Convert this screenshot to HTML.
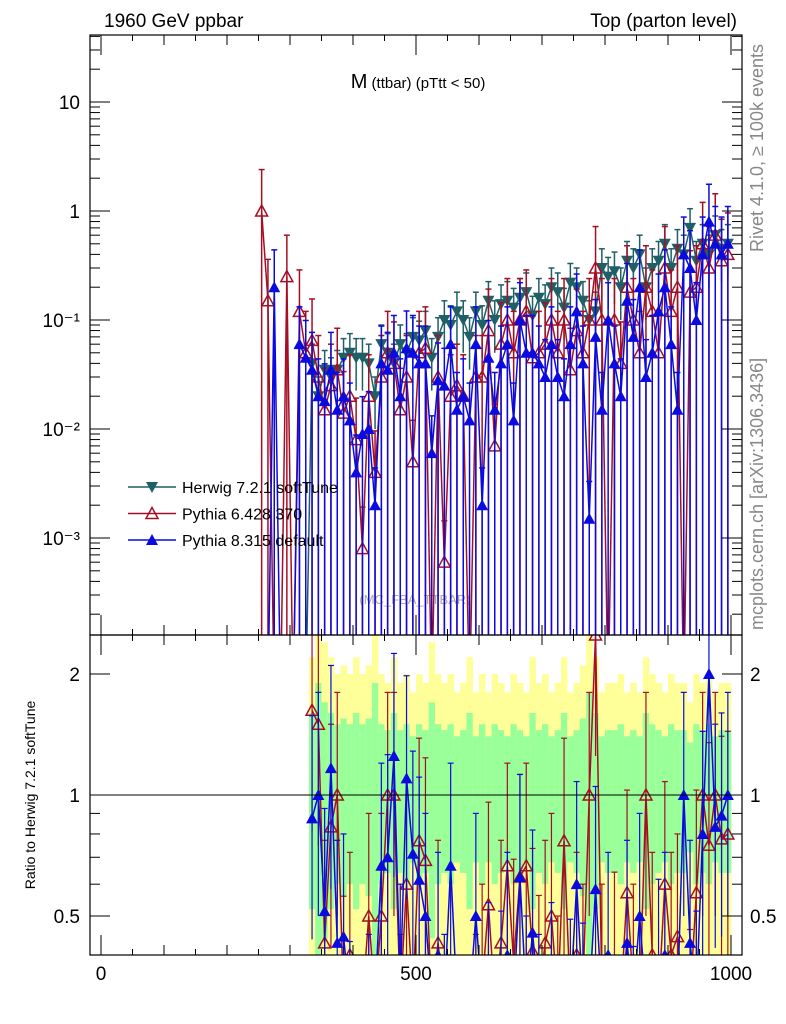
<!DOCTYPE html>
<html><head><meta charset="utf-8"><style>
html,body{margin:0;padding:0;background:#fff;overflow:hidden;width:786px;height:1024px;font-family:"Liberation Sans",sans-serif}
svg{display:block}
svg text{font-family:"Liberation Sans",sans-serif}
</style></head><body>
<svg id="c" width="786" height="1024" xmlns="http://www.w3.org/2000/svg">
<text x="104" y="27" font-size="19">1960 GeV ppbar</text>
<text x="737" y="27" font-size="19" text-anchor="end">Top (parton level)</text>
<text x="418" y="88" font-size="20" text-anchor="middle">M<tspan font-size="15"> (ttbar) (pTtt &lt; 50)</tspan></text>
<text x="415" y="604" font-size="13" fill="#aaa" text-anchor="middle">(MC_FBA_TTBAR)</text>
<text transform="translate(763,252) rotate(-90)" font-size="18" fill="#888">Rivet 4.1.0, ≥ 100k events</text>
<text transform="translate(763,630) rotate(-90)" font-size="18" fill="#888">mcplots.cern.ch [arXiv:1306.3436]</text>
<text transform="translate(35,795) rotate(-90)" font-size="14" text-anchor="middle">Ratio to Herwig 7.2.1 softTune</text>
<g id="bands"></g><g id="marks"></g><g id="axes"></g><g id="legend"></g>
</svg>
<script>
const centers=[];for(let i=0;i<75;i++)centers.push(255+10*i);
const herwig=[0,0,0,0,0,0,0,0,0.04,0.02,0.035,0.03,0.035,0.045,0.05,0.045,0.045,0.04,0.02,0.06,0.05,0.04,0.06,0.05,0.07,0.065,0.08,0.045,0.07,0.1,0.09,0.12,0.1,0.07,0.12,0.09,0.15,0.1,0.14,0.15,0.13,0.16,0.18,0.11,0.16,0.14,0.2,0.18,0.13,0.22,0.2,0.15,0.1,0.12,0.3,0.25,0.28,0.2,0.35,0.3,0.4,0.2,0.3,0.35,0.5,0.3,0.45,0.4,0.7,0.35,0.5,0.4,0.6,0.45,0.5];
const pythia6=[1.0,0.15,0,0,0.25,0,0.12,0.05,0.065,0.03,0.015,0.025,0.035,0.014,0.02,0.008,0.0008,0.02,0.004,0.03,0.05,0.04,0.015,0.03,0.005,0.05,0.055,0,0.03,0.0006,0.02,0.025,0.02,0,0.03,0.03,0.08,0.007,0.06,0.1,0.05,0.1,0.12,0.045,0.05,0.06,0.1,0.05,0.1,0.035,0.08,0.05,0.1,0.3,0.1,0,0.1,0.04,0.2,0.1,0.05,0.2,0.12,0.05,0.3,0.12,0.2,0,0.18,0.2,0.5,0.3,0.6,0.35,0.4];
const pythia8=[0,0,0.2,0,0,0,0.06,0.045,0.035,0.02,0.018,0.035,0.015,0.02,0.012,0.004,0.009,0.01,0.002,0.04,0.035,0.05,0.02,0.055,0.05,0.04,0.04,0.006,0.028,0.025,0.06,0.015,0.02,0.012,0.06,0.002,0.045,0.015,0.04,0.06,0.012,0.1,0.05,0.05,0.04,0.03,0.06,0.03,0.02,0.06,0.12,0.04,0.0015,0.07,0.015,0.1,0.04,0.02,0.15,0.07,0.2,0.03,0.05,0.12,0.2,0.06,0.015,0.4,0.3,0.1,0.4,0.8,0.5,0.4,0.5];
const relErr=[0,0,0,0,0,0,0,0,0.6,0.9,0.7,0.6,0.5,0.55,0.5,0.6,0.5,0.55,0.9,0.5,0.45,0.6,0.45,0.5,0.4,0.5,0.45,0.7,0.5,0.45,0.5,0.4,0.45,0.6,0.4,0.5,0.4,0.5,0.45,0.4,0.5,0.45,0.4,0.6,0.45,0.5,0.4,0.45,0.6,0.4,0.45,0.55,0.8,0.6,0.4,0.45,0.45,0.5,0.4,0.45,0.4,0.6,0.5,0.45,0.4,0.5,0.45,0.45,0.35,0.5,0.45,0.5,0.4,0.45,0.45];
const yTicks=["10","1","10⁻¹","10⁻²","10⁻³"];
const rTicks=[2,1,0.5];const xTicks=[0,500,1000];
const NS="http://www.w3.org/2000/svg";
const X0=90,X1=742,Y0=35,Y1=635,R1=955;
const xs=v=>101+0.63*v;
const ys=v=>v<=0?700:211-109*Math.log10(v);
const yr=v=>v<=0?1000:Math.min(1000,795-402*Math.log10(v));
function el(t,a,p){const e=document.createElementNS(NS,t);for(const k in a)e.setAttribute(k,a[k]);(p||document.getElementById('marks')).appendChild(e);return e;}
const svg=document.getElementById('c');
const defs=el('defs',{},svg);
const cm=el('clipPath',{id:'cm'},defs);el('rect',{x:X0,y:Y0,width:X1-X0,height:Y1-Y0},cm);
const cr=el('clipPath',{id:'cr'},defs);el('rect',{x:X0,y:Y1,width:X1-X0,height:R1-Y1},cr);
const bands=document.getElementById('bands');bands.setAttribute('clip-path','url(#cr)');
centers.forEach((c,i)=>{if(!relErr[i])return;const x=xs(c-5),w=0.63*10+0.3,e=relErr[i];
 const yt=yr(1+2*e),yb=yr(Math.max(1-2*e,0.01));
 const y=el('rect',{x:x,y:yt,width:w,height:yb-yt,fill:'#ffff99'},bands);
 
 
 const gt=yr(1+e),gb=yr(1-e*0.8);
 const g=el('rect',{x:x,y:gt,width:w,height:gb-gt,fill:'#99ff99'},bands);
 
 });
const marks=document.getElementById('marks');
const gm=el('g',{'clip-path':'url(#cm)'},marks);const gr=el('g',{'clip-path':'url(#cr)'},marks);
function marker(g,type,x,y,col){
 if(type==='down')return el('path',{d:`M${x-6},${y-5}L${x+6},${y-5}L${x},${y+6}Z`,fill:col},g);
 if(type==='up')return el('path',{d:`M${x-6},${y+5}L${x+6},${y+5}L${x},${y-6}Z`,fill:col},g);
 return el('path',{d:`M${x-6},${y+5}L${x+6},${y+5}L${x},${y-6}Z`,fill:'none',stroke:col,'stroke-width':1.5},g);}
function series(vals,col,type,up,lo,name){
 let d='';vals.forEach((v,i)=>{if(v===0&&(i===0||vals[i-1]===0)&&(i===vals.length-1||vals[i+1]===0))return;d+=(d?'L':'M')+xs(centers[i])+','+ys(v);});
 const p=el('path',{d:d,fill:'none',stroke:col,'stroke-width':1.5},gm);
 
 
 vals.forEach((v,i)=>{if(!v)return;const x=xs(centers[i]);
  el('line',{x1:x,x2:x,y1:ys(v*up),y2:ys(v*lo),stroke:col,'stroke-width':1.5},gm);
  el('line',{x1:x-3,x2:x+3,y1:ys(v*up),y2:ys(v*up),stroke:col,'stroke-width':1.5},gm);
  const m=marker(gm,type,x,ys(v),col);
  
  });
 if(name==='herwig')return;
 let rd='';vals.forEach((v,i)=>{if(!herwig[i])return;const r=v/herwig[i];rd+=(rd?'L':'M')+xs(centers[i])+','+yr(r);});
 const rp=el('path',{d:rd,fill:'none',stroke:col,'stroke-width':1.5},gr);
 
 
 vals.forEach((v,i)=>{if(!herwig[i]||!v)return;const r=v/herwig[i],x=xs(centers[i]);
  el('line',{x1:x,x2:x,y1:yr(r*1.8),y2:yr(r*0.5),stroke:col,'stroke-width':1.2},gr);
  el('line',{x1:x-3,x2:x+3,y1:yr(r*1.8),y2:yr(r*1.8),stroke:col,'stroke-width':1.2},gr);
  const m=marker(gr,type,x,yr(r),col);
  
  });}
series(herwig,'#1f5f66','down',1.5,0.5,'herwig');
series(pythia6,'#a50f25','open',2.4,0,'pythia6');
series(pythia8,'#0b0be0','up',2.2,0,'pythia8');
el('line',{x1:X0,x2:X1,y1:yr(1),y2:yr(1),stroke:'#000','stroke-width':1},gr);
const ax=document.getElementById('axes');
el('rect',{x:X0,y:Y0,width:X1-X0,height:Y1-Y0,fill:'none',stroke:'#000','stroke-width':1.2},ax);
el('rect',{x:X0,y:Y1,width:X1-X0,height:R1-Y1,fill:'none',stroke:'#000','stroke-width':1.2},ax);
for(let e=-4;e<=1;e++)for(let k=1;k<10;k++){const y=ys(k*Math.pow(10,e));if(y<Y0||y>Y1)continue;const L=k===1?20:10;
 el('line',{x1:X0,x2:X0+L,y1:y,y2:y,stroke:'#000'},ax);el('line',{x1:X1,x2:X1-L,y1:y,y2:y,stroke:'#000'},ax);}
yTicks.forEach((t,i)=>{const y=ys(Math.pow(10,1-i));const tx=el('text',{x:80,y:y+7,'font-size':19,'text-anchor':'end'},ax);tx.textContent=t;
 
 });
[0.4,0.5,0.6,0.7,0.8,0.9,1,2].forEach(v=>{const y=yr(v);const maj=v===0.5||v===1||v===2;const L=maj?20:10;
 el('line',{x1:X0,x2:X0+L,y1:y,y2:y,stroke:'#000'},ax);el('line',{x1:X1,x2:X1-L,y1:y,y2:y,stroke:'#000'},ax);});
rTicks.forEach(v=>{const y=yr(v)+7;[[80,'end'],[750,'start']].forEach(([x,a])=>{const tx=el('text',{x:x,y:y,'font-size':19,'text-anchor':a},ax);tx.textContent=String(v);
 
 });});
for(let v=0;v<=1000;v+=50){const x=xs(v);const L=v%500===0?20:(v%100===0?10:6);
 [[Y0,1],[Y1,-1],[Y1,1],[R1,-1]].forEach(([y,s])=>el('line',{x1:x,x2:x,y1:y,y2:y+s*L,stroke:'#000'},ax));}
xTicks.forEach(v=>{const tx=el('text',{x:xs(v),y:980,'font-size':19,'text-anchor':'middle'},ax);tx.textContent=String(v);
 
 });
const lg=document.getElementById('legend');
[['Herwig 7.2.1 softTune','#1f5f66','down'],['Pythia 6.428 370','#a50f25','open'],['Pythia 8.315 default','#0b0be0','up']].forEach((e,i)=>{const y=487+i*26.5;
 const g=el('g',{},lg);
 el('line',{x1:128,x2:176,y1:y,y2:y,stroke:e[1],'stroke-width':1.5},g);marker(g,e[2],152,y,e[1]);
 const t=el('text',{x:182,y:y+6,'font-size':16},g);t.textContent=e[0];});
</script>
</body></html>
